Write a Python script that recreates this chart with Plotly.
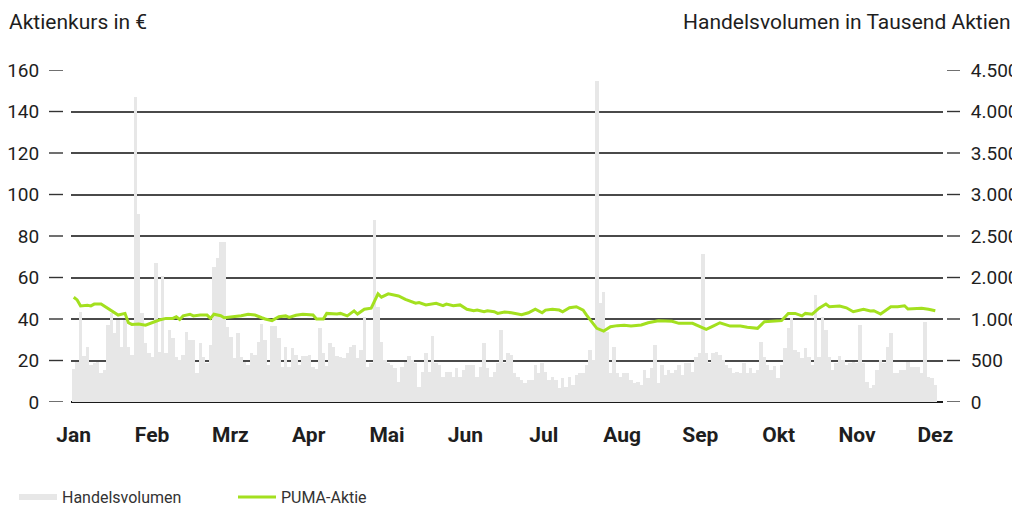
import plotly.graph_objects as go

# ---------------- data ----------------
months = ["Jan", "Feb", "Mrz", "Apr", "Mai", "Jun", "Jul", "Aug", "Sep", "Okt", "Nov", "Dez"]

# daily trading volume (thousand shares), one value per trading day
volume_q1 = [443, 546, 1224, 623, 750, 501, 533, 546, 393, 434,
             1043, 1206, 935, 1111, 750, 1111, 750, 637, 4128, 2543,
             1206, 800, 664, 614, 1879, 682, 1707, 664, 976, 867,
             614, 569, 637, 953, 840, 840, 393, 800, 614, 533,
             772, 1825, 1947, 2172, 2172, 1020, 885, 592, 939, 614,
             546, 501, 664, 637, 817, 1057, 840, 501, 1030, 1030,
             867, 478, 750, 478, 728, 637, 501, 623, 623, 637,
             478, 443, 999, 664, 488, 800, 750, 623, 614, 592,
             664, 750, 772, 592, 705]
volume_q2 = [1156, 478, 524, 2466, 1291, 817, 569, 524, 501, 456,
             275, 478, 546, 623, 569, 524, 207, 411, 660, 411,
             894, 524, 501, 343, 411, 411, 343, 456, 343, 434,
             501, 501, 501, 343, 478, 795, 456, 343, 411, 524,
             976, 524, 660, 637, 389, 343, 298, 253, 298, 298,
             501, 389, 524, 411, 298, 343, 298, 185, 321, 207,
             343, 230, 366, 389, 389, 501, 705, 569, 4350, 1337,
             1495, 953, 389, 750, 389, 343, 389, 389, 298, 253,
             275, 230]
volume_q3 = [434, 321, 456, 772, 253, 501, 366, 434, 389, 434,
             501, 366, 524, 524, 411, 614, 660, 2005, 660, 524,
             660, 682, 637, 569, 501, 456, 389, 411, 389, 524,
             389, 456, 389, 434, 817, 614, 501, 434, 488, 321,
             501, 728, 999, 1134, 705, 682, 592, 728, 614, 501,
             1450, 614, 1156, 976, 614, 434, 524, 623, 569, 501,
             524, 546, 524, 1043, 524, 275, 185, 230, 434, 569,
             524, 750, 931, 389, 389, 434, 434, 546, 478, 478,
             478, 389, 1088, 343, 321, 230]
volume = volume_q1 + volume_q2 + volume_q3

# share price (EUR): trading-day index and closing price
price_day = [0, 1, 2, 4, 5, 6, 8, 10, 12, 13, 15, 16, 17, 19, 21, 23, 25, 27, 29, 30,
             31, 32, 34, 35, 37, 39, 40, 41, 43, 44, 47, 49, 51, 53, 55, 56, 58, 60, 62, 63,
             65, 67, 70, 71, 73, 74, 77, 78, 80, 82, 83, 85, 87, 89, 90, 92, 95, 97, 100, 101,
             103, 106, 108, 109, 111, 113, 115, 117, 118, 120, 121, 123, 124, 126, 128, 131, 133, 135, 137, 138,
             140, 142, 143, 145, 147, 149, 150, 151, 153, 155, 157, 159, 161, 163, 166, 168, 171, 175, 177, 181,
             183, 185, 187, 189, 192, 195, 197, 200, 202, 205, 207, 209, 211, 213, 214, 216, 218, 220, 221, 224,
             226, 228, 231, 233, 234, 236, 237, 239, 241, 243, 244, 246, 248, 250, 252]
price_value = [50.5, 49.2, 46.3, 46.6, 46.3, 47.2, 47.2, 45.2, 43.2, 41.9, 42.7, 38.2, 37.4, 37.6, 37.0, 38.4, 39.5, 40.3, 40.3, 41.1,
               39.8, 41.5, 42.3, 41.5, 41.9, 41.9, 40.3, 42.3, 41.6, 40.6, 41.1, 41.6, 42.3, 41.9, 40.6, 40.0, 39.2, 41.1, 41.5, 40.8,
               41.8, 42.3, 41.9, 40.0, 40.0, 42.7, 42.4, 42.7, 41.5, 43.9, 42.4, 44.7, 45.2, 52.1, 50.5, 52.1, 51.1, 49.5, 47.6, 47.9,
               46.8, 47.6, 46.4, 47.2, 46.4, 46.8, 44.7, 44.0, 44.3, 43.5, 44.0, 43.5, 42.7, 43.4, 43.0, 42.1, 43.0, 44.7, 43.0, 44.3,
               44.7, 44.3, 43.5, 45.4, 45.9, 44.3, 41.9, 39.8, 35.5, 34.2, 36.3, 36.8, 37.0, 36.6, 37.1, 38.2, 39.2, 38.9, 37.9, 37.9,
               36.6, 35.0, 36.6, 38.2, 36.6, 36.6, 36.0, 35.5, 38.7, 39.2, 39.2, 42.7, 42.7, 41.5, 42.7, 42.3, 45.2, 47.2, 45.9, 46.3,
               45.4, 43.5, 44.7, 43.9, 44.0, 42.4, 43.5, 45.9, 45.9, 46.4, 44.8, 45.0, 45.2, 44.7, 44.0]

price_ticks = [0, 20, 40, 60, 80, 100, 120, 140, 160]
volume_tick_labels = ["0", "500", "1.000", "2.000", "2.500", "3.000", "3.500", "4.000", "4.500"]

# ---------------- styling ----------------
FONT = "Roboto"
TXT = "#1e1e1e"
BAR_C = "#e7e7e7"
LINE_C = "#a3e01f"
GRID_C = "#4a4a4a"
PRICE_MAX = 160
VOL_MAX = 4500

N = len(volume)
days = list(range(N))
month_pos = [i * (N - 1) / 11 for i in range(12)]
vol_grid_pos = [p * VOL_MAX / PRICE_MAX for p in price_ticks]

fig = go.Figure()
fig.add_trace(go.Bar(x=days, y=volume, yaxis="y", name="Handelsvolumen",
                     marker=dict(color=BAR_C, line=dict(width=0)), showlegend=False,
                     hoverinfo="skip"))
fig.add_trace(go.Scatter(x=price_day, y=price_value, yaxis="y2", mode="lines",
                         name="PUMA-Aktie", line=dict(color=LINE_C, width=3, shape="linear"),
                         showlegend=False))
# legend entries
fig.add_trace(go.Scatter(x=[None], y=[None], mode="lines", name="Handelsvolumen",
                         line=dict(color=BAR_C, width=6)))
fig.add_trace(go.Scatter(x=[None], y=[None], mode="lines", name="PUMA-Aktie",
                         line=dict(color=LINE_C, width=3)))

# page body has an 8px margin, so the figure is drawn 8px smaller and offset
W, H = 1012, 499
L, R, T, B = 63, 77, 62, 105
pw = W - L - R
ph = H - T - B

shapes = []
for p in price_ticks:
    shapes.append(dict(type="line", xref="paper", yref="y2",
                       x0=(49 - 71) / pw, x1=(63 - 71) / pw, y0=p, y1=p,
                       line=dict(color="#333333", width=1.4)))
    shapes.append(dict(type="line", xref="paper", yref="y2",
                       x0=1 + 4 / pw, x1=1 + 17 / pw, y0=p, y1=p,
                       line=dict(color="#333333", width=1.4)))

fig.update_layout(
    width=W, height=H,
    margin=dict(l=L, r=R, t=T, b=B, autoexpand=False),
    paper_bgcolor="white", plot_bgcolor="white",
    font=dict(family=FONT, size=19, color=TXT),
    bargap=0,
    shapes=shapes,
    xaxis=dict(range=[-0.8, N + 1.25], tickvals=month_pos, ticktext=months,
               tickfont=dict(family=FONT, size=21, color=TXT, weight="bold"),
               ticks="outside", ticklen=14, tickcolor="rgba(0,0,0,0)",
               showgrid=False, zeroline=False, showline=False, fixedrange=True,
               automargin=False),
    yaxis=dict(range=[0, VOL_MAX], side="right", tickvals=vol_grid_pos,
               ticktext=volume_tick_labels, tickfont=dict(family=FONT, size=19, color=TXT),
               ticks="outside", ticklen=23, tickcolor="rgba(0,0,0,0)",
               showgrid=True, gridcolor=GRID_C, gridwidth=1.6,
               zeroline=True, zerolinecolor="#1a1a1a", zerolinewidth=2,
               showline=False, automargin=False),
    yaxis2=dict(range=[0, PRICE_MAX], side="left", overlaying="y", tickvals=price_ticks,
                tickfont=dict(family=FONT, size=19, color=TXT),
                ticks="outside", ticklen=27, tickcolor="rgba(0,0,0,0)",
                showgrid=False, zeroline=False, showline=False, automargin=False),
    legend=dict(orientation="h", x=(14 - 71) / pw, xanchor="left",
                y=-(497 - 402) / ph, yanchor="middle",
                font=dict(family=FONT, size=16, color="#333333"),
                entrywidth=166, entrywidthmode="pixels", itemwidth=38,
                bgcolor="rgba(0,0,0,0)"),
    annotations=[
        dict(text="Aktienkurs in €", xref="paper", yref="paper",
             x=(7 - 71) / pw, y=1 + (70 - 22) / ph, xanchor="left", yanchor="middle",
             showarrow=False, font=dict(family=FONT, size=21, color=TXT)),
        dict(text="Handelsvolumen in Tausend Aktien", xref="paper", yref="paper",
             x=(1013 - 71) / pw, y=1 + (70 - 22) / ph, xanchor="right", yanchor="middle",
             showarrow=False, font=dict(family=FONT, size=21, color=TXT)),
    ],
)

fig.write_html("out.html")
